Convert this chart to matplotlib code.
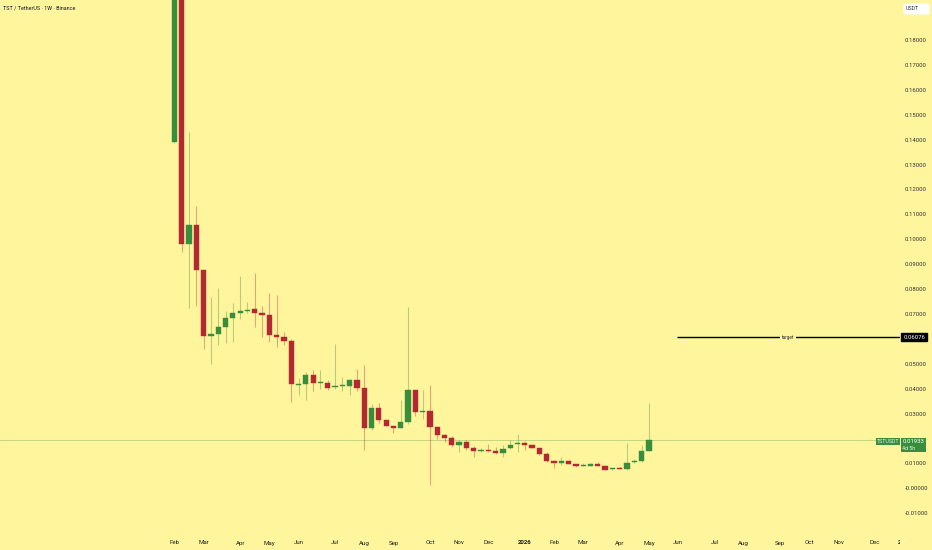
import matplotlib
matplotlib.use("Agg")
import matplotlib.pyplot as plt
import matplotlib.transforms as mtransforms
from matplotlib.patches import Rectangle, FancyBboxPatch
import pandas as pd

plt.rcParams['font.family'] = ['Roboto', 'DejaVu Sans']

# weekly candles TST/USDT, from week of 2025-02-03
opens = [0.139, 0.25, 0.098, 0.1056, 0.0876, 0.0613, 0.0618, 0.0647, 0.0683, 0.0703,
         0.0711, 0.0719, 0.0703, 0.0695, 0.0614, 0.0606, 0.0590, 0.0415, 0.0419, 0.0455,
         0.0423, 0.0424, 0.0406, 0.0411, 0.0413, 0.0434, 0.0402, 0.0242, 0.0324, 0.0274,
         0.0249, 0.0242, 0.0265, 0.0395, 0.0307, 0.0310, 0.0246, 0.0213, 0.0201, 0.0175,
         0.0185, 0.0162, 0.0150, 0.0154, 0.0149, 0.0141, 0.0161, 0.0177, 0.0183, 0.0173,
         0.0162, 0.0137, 0.0111, 0.0100, 0.0110, 0.0098, 0.0089, 0.0090, 0.0099, 0.0088,
         0.0078, 0.0083, 0.0078, 0.0106, 0.0111, 0.0150]
highs = [0.26, 0.25, 0.143, 0.1133, 0.0876, 0.0767, 0.0803, 0.0711, 0.0743, 0.0851,
         0.0747, 0.0863, 0.0731, 0.0783, 0.0775, 0.0627, 0.0598, 0.0445, 0.0467, 0.0474,
         0.0474, 0.0434, 0.0581, 0.0447, 0.0440, 0.0478, 0.0494, 0.0340, 0.0344, 0.0274,
         0.0249, 0.0353, 0.0728, 0.0395, 0.0394, 0.0414, 0.0246, 0.0219, 0.0210, 0.0196,
         0.0193, 0.0171, 0.0163, 0.0177, 0.0165, 0.0175, 0.0196, 0.0217, 0.0190, 0.0177,
         0.0162, 0.0146, 0.0115, 0.0126, 0.0115, 0.0098, 0.0100, 0.0103, 0.0105, 0.0094,
         0.0083, 0.0086, 0.0182, 0.0118, 0.0173, 0.0344]
lows = [0.1385, 0.095, 0.0723, 0.0731, 0.0558, 0.050, 0.0574, 0.0582, 0.0586, 0.0679,
        0.0703, 0.0647, 0.0606, 0.0586, 0.0566, 0.0574, 0.0345, 0.0373, 0.0356, 0.0391,
        0.0400, 0.0394, 0.0400, 0.0391, 0.0373, 0.0391, 0.0153, 0.0236, 0.0262, 0.0249,
        0.0222, 0.0242, 0.0257, 0.0289, 0.0278, 0.0012, 0.0200, 0.0186, 0.0166, 0.0146,
        0.0155, 0.0126, 0.0146, 0.0146, 0.0138, 0.0126, 0.0160, 0.0146, 0.0153, 0.0161,
        0.0133, 0.0107, 0.0083, 0.0094, 0.0097, 0.0087, 0.0089, 0.0090, 0.0088, 0.0073,
        0.0073, 0.0078, 0.0073, 0.0102, 0.0106, 0.0150]
closes = [0.25, 0.098, 0.1056, 0.0876, 0.0611, 0.0618, 0.0647, 0.0683, 0.0703, 0.0711,
          0.0715, 0.0703, 0.0695, 0.0614, 0.0606, 0.0590, 0.0418, 0.0417, 0.0454, 0.0424,
          0.0425, 0.0404, 0.0408, 0.0414, 0.0434, 0.0402, 0.0242, 0.0324, 0.0276, 0.0249,
          0.0242, 0.0265, 0.0395, 0.0305, 0.0309, 0.0246, 0.0213, 0.0202, 0.0175, 0.0185,
          0.0162, 0.0149, 0.0152, 0.0149, 0.0141, 0.0159, 0.0175, 0.0183, 0.0173, 0.0162,
          0.0137, 0.0110, 0.0100, 0.0110, 0.0099, 0.0088, 0.0091, 0.0099, 0.0088, 0.0075,
          0.0083, 0.0078, 0.0102, 0.0111, 0.0150, 0.01933]

target_price = 0.06076
last_price = 0.01933
price_ticks = [-0.01, 0.0, 0.01, 0.03, 0.04, 0.05, 0.07, 0.08, 0.09, 0.10,
               0.11, 0.12, 0.13, 0.14, 0.15, 0.16, 0.17, 0.18]

weeks = pd.date_range("2025-02-03", periods=104, freq="W-MON")

BG = "#FFF59D"
UP = "#388E3C"
DOWN = "#B22833"

fig = plt.figure(figsize=(9.32, 5.5), dpi=100, facecolor=BG)
ax = fig.add_axes([0, 0, 900 / 932, 1])
ax.set_facecolor(BG)
ax.set_xlim(-23.9, 99.4)
ax.set_ylim(-0.02473, 0.19606)
for s in ax.spines.values():
    s.set_visible(False)

# candles
w = 0.72
for i, (o, h, l, c) in enumerate(zip(opens, highs, lows, closes)):
    col = UP if c >= o else DOWN
    ax.vlines(i, l, h, color=col, alpha=0.38, lw=0.8, zorder=2)
    bot = min(o, c)
    hgt = max(abs(c - o), 0.0004)
    ax.add_patch(Rectangle((i - w / 2, bot), w, hgt, facecolor=col,
                           edgecolor=col, lw=0.3, zorder=3))

# last price line
ax.axhline(last_price, color=UP, alpha=0.3, lw=0.7, zorder=1)

# target line
tx0 = 68.8
ax.hlines(target_price, tx0, 99.4, color="black", lw=1.0, zorder=4)
ax.text((tx0 + 99.4) / 2, target_price, "target", fontsize=3.4, color="#333333",
        ha="center", va="center", zorder=5,
        bbox=dict(facecolor=BG, edgecolor="none", pad=1.2))

# time axis labels (inside the axes so the last one gets clipped)
blend = mtransforms.blended_transform_factory(ax.transData, ax.transAxes)
month_idx = [0] + [i for i in range(1, len(weeks)) if weeks[i].month != weeks[i - 1].month]
for i in month_idx:
    d = weeks[i]
    if d.month == 1:
        lab, wt = str(d.year), "bold"
    else:
        lab, wt = d.strftime("%b"), "normal"
    ax.text(i, 7 / 550, lab, transform=blend, fontsize=4.4, color="#222222",
            ha="center", va="center", fontweight=wt, clip_on=True)
ax.set_xticks([])

# price axis
ax.yaxis.tick_right()
ax.set_yticks(price_ticks)
ax.set_yticklabels([("-0.00000" if v == 0 else f"{v:.5f}") for v in price_ticks])
ax.tick_params(axis="y", length=0, pad=3.6, labelsize=4.3, labelcolor="#333333")

# price badges
def px_to_fig(x, y):
    return x / 932, 1 - y / 550

bx, by = px_to_fig(914.2, 337.2)
fig.text(bx, by, f"{target_price:.5f}", fontsize=4.3, color="white",
         ha="center", va="center",
         bbox=dict(facecolor="black", edgecolor="black", pad=1.3))

fig.patches.append(Rectangle(px_to_fig(875.7, 445), 24.3 / 932, 7.3 / 550,
                             transform=fig.transFigure, facecolor=UP, edgecolor="none"))
fig.patches.append(Rectangle(px_to_fig(900.7, 451.7), 25.3 / 932, 14 / 550,
                             transform=fig.transFigure, facecolor=UP, edgecolor="none"))
fig.text(*px_to_fig(887.8, 441.3), "TSTUSDT", fontsize=3.8, color="#e8f5e9",
         ha="center", va="center")
fig.text(*px_to_fig(913.5, 441.3), f"{last_price:.5f}", fontsize=4.3, color="white",
         ha="center", va="center")
fig.text(*px_to_fig(902.5, 448.3), "4d 5h", fontsize=3.8, color="#e8f5e9",
         ha="left", va="center")

# currency box
fig.patches.append(FancyBboxPatch(px_to_fig(903.5, 14.5), 26 / 932, 11 / 550,
                                  boxstyle="round,pad=0,rounding_size=0.002",
                                  transform=fig.transFigure, facecolor="white",
                                  edgecolor="none"))
fig.text(*px_to_fig(912.5, 9), "USDT", fontsize=3.8, color="#333333",
         ha="center", va="center")

# title
fig.text(3 / 932, 1 - 8 / 550, "TST / TetherUS · 1W · Binance", fontsize=3.9,
         color="#131722", ha="left", va="center")

fig.savefig("out.png", dpi=100, facecolor=BG)
